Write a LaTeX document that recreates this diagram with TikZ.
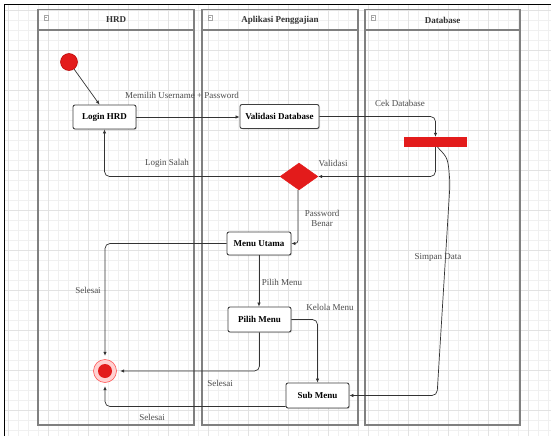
\documentclass[tikz,border=0pt]{standalone}
\usepackage{fontspec}
\setmainfont{Liberation Serif}
\usetikzlibrary{arrows.meta,shapes.geometric,shadows}

\definecolor{actred}{HTML}{E31B1B}
\definecolor{actredline}{HTML}{B80000}
\definecolor{lanegray}{HTML}{808080}
\definecolor{gridminor}{HTML}{F0F0F0}
\definecolor{gridmajor}{HTML}{E2E2E2}
\definecolor{wire}{HTML}{333333}

\tikzset{
  lane/.style={draw=lanegray, line width=1.2pt},
  lanetitle/.style={font=\bfseries\fontsize{9}{10}\selectfont, text=black!80},
  laneicon/.style={draw=gray!70, line width=0.5pt},
  activity/.style={draw=black!75, line width=0.9pt, fill=white, rounded corners=2pt,
    inner sep=0pt, font=\bfseries\fontsize{9}{10}\selectfont,
    drop shadow={shadow xshift=1pt, shadow yshift=-1pt, opacity=0.25}},
  flow/.style={draw=wire, line width=0.7pt, -{Latex[length=4pt,width=3.5pt]}, rounded corners=5pt},
  lbl/.style={font=\fontsize{9}{10}\selectfont, text=black!70, inner sep=1pt},
  gridline/.style={draw=gridminor, line width=0.5pt},
  gridmain/.style={draw=gridmajor, line width=0.5pt},
}

\begin{document}
\begin{tikzpicture}[x=1pt,y=-1pt]
  \useasboundingbox (0,0) rectangle (551,436);
  \fill[white] (0,0) rectangle (551,436);

  % background grid
  \foreach \g in {8,18,...,548} \draw[gridline] (\g,5) -- (\g,436);
  \foreach \g in {10,20,...,430} \draw[gridline] (5,\g) -- (551,\g);
  \foreach \g in {8,48,...,548} \draw[gridmain] (\g,5) -- (\g,436);
  \foreach \g in {10,50,...,430} \draw[gridmain] (5,\g) -- (551,\g);

  % page frame
  \draw[black, line width=1.5pt] (4.5,436) -- (4.5,4.5) -- (551,4.5);

  % swimlanes
  \draw[lane] (38,9.5) rectangle (194,425);  \draw[lane] (38,30) -- (194,30);
  \draw[lane] (202,9.5) rectangle (358,425); \draw[lane] (202,30) -- (358,30);
  \draw[lane] (365,9.5) rectangle (520,425); \draw[lane] (365,30) -- (520,30);
  \foreach \lx in {46,210,373} {
    \draw[laneicon] (\lx-2.2,15.5) rectangle (\lx+2.2,19.9);
    \draw[laneicon] (\lx-1.2,17.7) -- (\lx+1.2,17.7);
  }
  \node[lanetitle] (hHRD) at (116,20) {HRD};
  \node[lanetitle] (hApp) at (280,20) {Aplikasi Penggajian};
  \node[lanetitle] (hDB)  at (442.5,20) {Database};

  % activity nodes
  \node[circle, fill=actred, draw=actredline, line width=0.5pt, minimum size=17pt, inner sep=0pt] (start) at (69,62) {};
  \node[activity, minimum width=63pt, minimum height=24pt] (login) at (104.5,117) {Login HRD};
  \node[activity, minimum width=79pt, minimum height=24pt] (valid) at (279.5,116.5) {Validasi Database};
  \node[fill=actred, inner sep=0pt, minimum width=63pt, minimum height=10pt] (bar) at (435.5,142) {};
  \node[diamond, fill=actred, draw=actred, inner sep=0pt, minimum width=38pt, minimum height=27pt] (dia) at (299,176.5) {};
  \node[activity, minimum width=64pt, minimum height=23pt] (menu) at (259,243.5) {Menu Utama};
  \node[activity, minimum width=63pt, minimum height=25pt] (pilih) at (259.5,319.5) {Pilih Menu};
  \node[activity, minimum width=63pt, minimum height=25pt] (sub) at (317.5,395.5) {Sub Menu};

  % final state
  \node[circle, minimum size=30pt, inner sep=0pt] (final) at (105,371) {};
  \node[circle, fill=red!18, draw=red!65, line width=0.6pt, minimum size=23pt, inner sep=0pt] (finalring) at (final) {};
  \node[circle, fill=actred, minimum size=14pt, inner sep=0pt] (finalcore) at (final) {};

  % connectors
  \draw[flow] (start) -- ([xshift=-5pt]login.north);
  \draw[flow] (login.east) -- (login.east -| valid.west);
  \draw[flow] (valid.east) -| (bar.north);
  \draw[flow] (bar.south) |- (dia.east);
  \draw[flow] (dia.west) -| (login.south);
  \draw[flow, rounded corners=3pt] ([xshift=-1pt]dia.south) |- (menu.east);
  \draw[flow] (menu.west) -| (final.north);
  \draw[flow] (menu.south) -- (menu.south |- pilih.north);
  \draw[flow] (pilih.south) |- (final.east);
  \draw[flow] (pilih.east) -| (sub.north);
  \draw[flow] ([yshift=-11pt]sub.west) -| (final.south);
  \coordinate (sdTurn) at (437,395.5);
  \draw[flow] ([xshift=2pt]bar.south) .. controls (448,158) .. (450,184) -- (sdTurn) -- (sub.east);

  % connector labels
  \node[lbl] (tMemilih) at (182,95) {Memilih Username + Password};
  \node[lbl] (tCek) at (400,103) {Cek Database};
  \node[lbl] (tValidasi) at (333,163) {Validasi};
  \node[lbl] (tSalah) at (167,163) {Login Salah};
  \node[lbl] (tSimpan) at (438,257) {Simpan Data};
  \node[lbl, align=center] (tBenar) at (322,218) {Password\\Benar};
  \node[lbl] (tSelesaiA) at (88,290) {Selesai};
  \node[lbl] (tPilih) at (282,282) {Pilih Menu};
  \node[lbl] (tKelola) at (330,307) {Kelola Menu};
  \node[lbl] (tSelesaiB) at (220,383) {Selesai};
  \node[lbl] (tSelesaiC) at (152,417) {Selesai};
\end{tikzpicture}
\end{document}
